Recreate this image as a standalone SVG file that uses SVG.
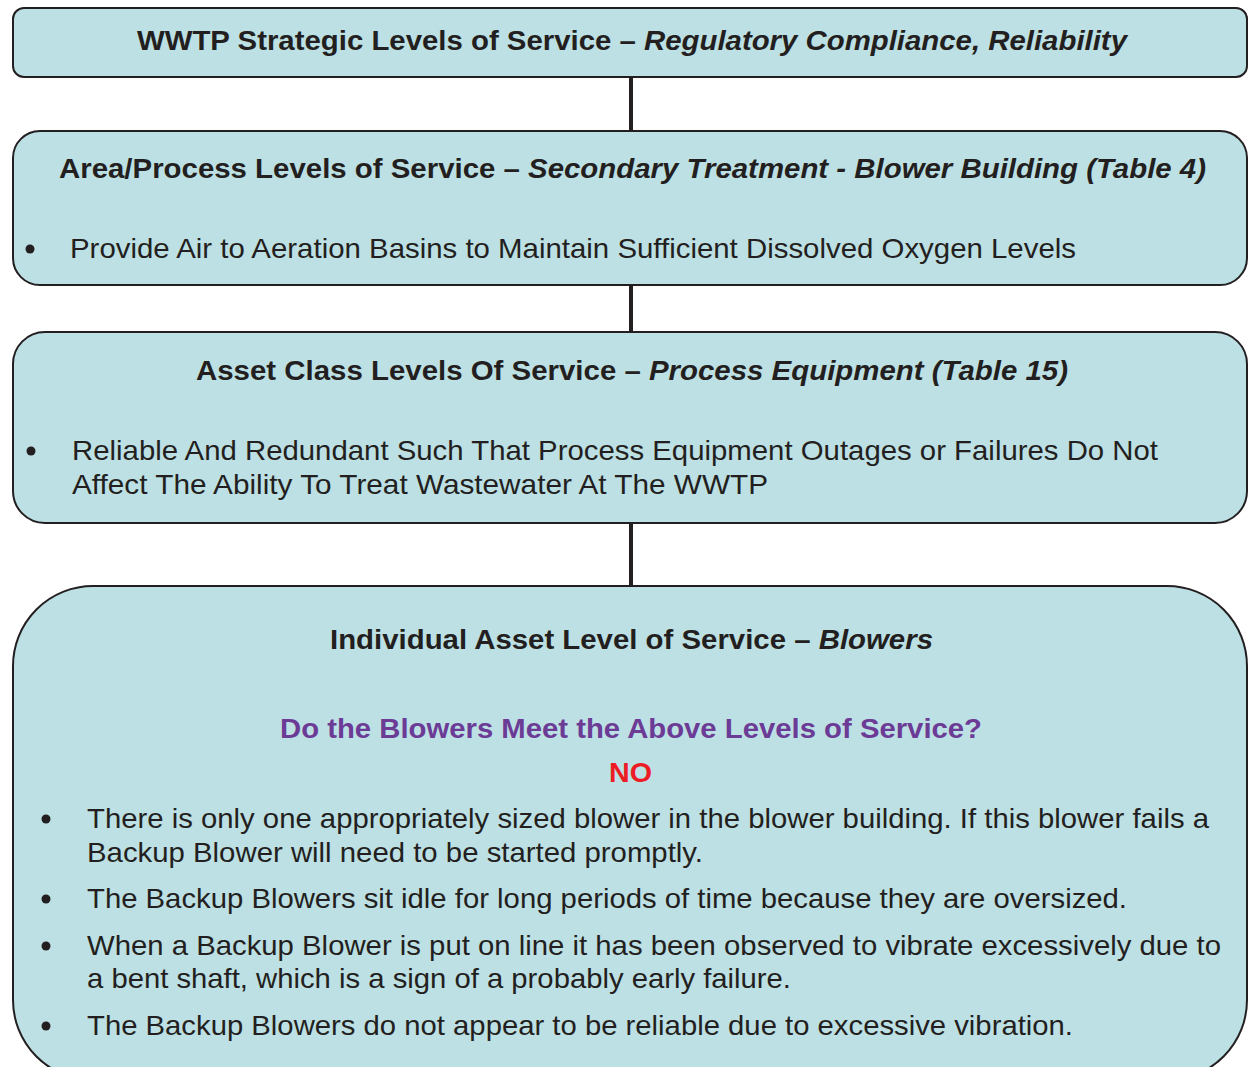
<svg xmlns="http://www.w3.org/2000/svg" width="1248" height="1067" viewBox="0 0 1248 1067">
<style>
.box{fill:#bde0e4;stroke:#231f20;stroke-width:2}
.t{font-family:"Liberation Sans",Arial,sans-serif;fill:#231f20;font-size:28px}
.h{font-weight:bold}
.dot{fill:#231f20}
.conn{stroke:#231f20;stroke-width:4}
</style>
<rect width="1248" height="1067" fill="#ffffff"/>
<g id="connectors">
<line class="conn" x1="631" y1="77" x2="631" y2="131"/>
<line class="conn" x1="631" y1="285" x2="631" y2="332"/>
<line class="conn" x1="631" y1="523" x2="631" y2="586"/>
</g>
<g id="node1">
<rect class="box" x="13" y="8" width="1234" height="69" rx="11"/>
<text class="t h" x="137" y="50" textLength="990" lengthAdjust="spacingAndGlyphs">WWTP Strategic Levels of Service – <tspan font-style="italic">Regulatory Compliance, Reliability</tspan></text>
</g>
<g id="node2">
<rect class="box" x="13" y="131" width="1234" height="154" rx="27"/>
<text class="t h" x="59" y="178" textLength="1147" lengthAdjust="spacingAndGlyphs">Area/Process Levels of Service – <tspan font-style="italic">Secondary Treatment - Blower Building (Table 4)</tspan></text>
<circle class="dot" cx="30" cy="249" r="4.5"/>
<text class="t" x="70" y="258" textLength="1006" lengthAdjust="spacingAndGlyphs">Provide Air to Aeration Basins to Maintain Sufficient Dissolved Oxygen Levels</text>
</g>
<g id="node3">
<rect class="box" x="13" y="332" width="1234" height="191" rx="32"/>
<text class="t h" x="196" y="380" textLength="872" lengthAdjust="spacingAndGlyphs">Asset Class Levels Of Service – <tspan font-style="italic">Process Equipment (Table 15)</tspan></text>
<circle class="dot" cx="31" cy="451" r="4.5"/>
<text class="t" x="72" y="460" textLength="1086" lengthAdjust="spacingAndGlyphs">Reliable And Redundant Such That Process Equipment Outages or Failures Do Not</text>
<text class="t" x="72" y="494" textLength="696" lengthAdjust="spacingAndGlyphs">Affect The Ability To Treat Wastewater At The WWTP</text>
</g>
<g id="node4">
<rect class="box" x="13" y="586" width="1234" height="494" rx="80"/>
<text class="t h" x="330" y="649" textLength="603" lengthAdjust="spacingAndGlyphs">Individual Asset Level of Service – <tspan font-style="italic">Blowers</tspan></text>
<text class="t h" x="280" y="738" textLength="702" lengthAdjust="spacingAndGlyphs" style="fill:#6b3b96">Do the Blowers Meet the Above Levels of Service?</text>
<text class="t h" x="609" y="782" textLength="43" lengthAdjust="spacingAndGlyphs" style="fill:#ed1c24">NO</text>
<circle class="dot" cx="46" cy="819" r="4.5"/>
<text class="t" x="87" y="828" textLength="1122" lengthAdjust="spacingAndGlyphs">There is only one appropriately sized blower in the blower building. If this blower fails a</text>
<text class="t" x="87" y="862" textLength="616" lengthAdjust="spacingAndGlyphs">Backup Blower will need to be started promptly.</text>
<circle class="dot" cx="46" cy="899" r="4.5"/>
<text class="t" x="87" y="908" textLength="1040" lengthAdjust="spacingAndGlyphs">The Backup Blowers sit idle for long periods of time because they are oversized.</text>
<circle class="dot" cx="46" cy="946" r="4.5"/>
<text class="t" x="87" y="955" textLength="1134" lengthAdjust="spacingAndGlyphs">When a Backup Blower is put on line it has been observed to vibrate excessively due to</text>
<text class="t" x="87" y="988" textLength="704" lengthAdjust="spacingAndGlyphs">a bent shaft, which is a sign of a probably early failure.</text>
<circle class="dot" cx="46" cy="1026" r="4.5"/>
<text class="t" x="87" y="1035" textLength="986" lengthAdjust="spacingAndGlyphs">The Backup Blowers do not appear to be reliable due to excessive vibration.</text>
</g>
</svg>
